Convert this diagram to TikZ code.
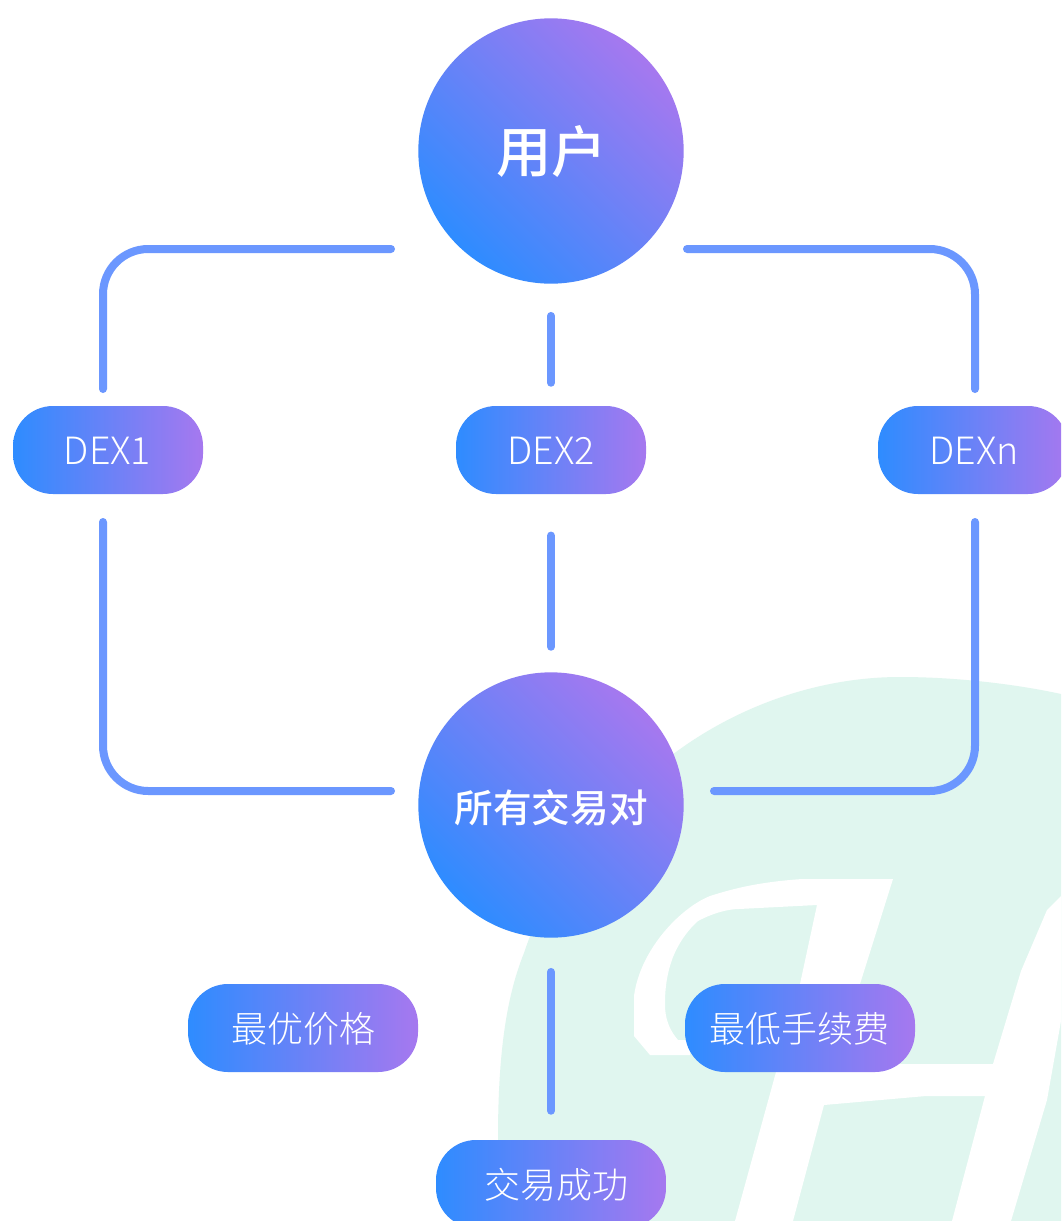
\documentclass[tikz,border=0pt]{standalone}
\usepackage{fontspec}
\setmainfont{Noto Sans CJK SC}
\newfontfamily\cjklight{Noto Sans CJK SC Light}
\newfontfamily\cjkmed{Noto Sans CJK SC Medium}
\definecolor{gblue}{HTML}{2E8CFF}
\definecolor{gpurple}{HTML}{A678EF}
\definecolor{linkc}{HTML}{6B97FF}
\definecolor{mint}{HTML}{E0F6EF}
% optical offset of a label inside its node: dx, dy, text
\newcommand{\nudgetext}[3]{\hspace*{#1}\raisebox{#2}[\height][\depth]{#3}}
\tikzset{
  bigcircle/.style={circle,inner sep=0pt,minimum size=199pt,text=white,
    left color=gblue,right color=gpurple,shading angle=135},
  pill/.style={rectangle,rounded corners=30pt,inner sep=0pt,minimum height=66pt,text=white,
    left color=gblue,right color=gpurple,font=\cjklight\fontsize{27pt}{30pt}\selectfont},
  dexpill/.style={pill,minimum width=142.5pt,font=\cjklight\fontsize{28.2pt}{30pt}\selectfont},
  wordpill/.style={pill,minimum width=172.5pt},
  link/.style={draw=linkc,line width=6pt,line cap=round,rounded corners=34pt},
  mintshape/.style={fill=mint,draw=none},
  glyphcut/.style={fill=white,draw=none}
}
\begin{document}
\begin{tikzpicture}[x=0.75pt,y=-0.75pt]
\useasboundingbox (0,0) rectangle (1061,1221);
\clip (0,0) rectangle (1061,1221);
\fill[white] (0,0) rectangle (1061,1221);
% watermark
\path[mintshape] (498,1221) -- (498,1139)
  .. controls (498,1060) and (505,1000) .. (524,953)
  .. controls (545,890) and (590,810) .. (676,752)
  .. controls (740,705) and (820,677) .. (900,677)
  .. controls (960,677) and (1020,685) .. (1061,694)
  -- (1061,1221) -- cycle;
\path[glyphcut] (893,879) -- (802,879)
  .. controls (760,882) and (735,888) .. (710,896)
  .. controls (680,908) and (640,950) .. (634,996)
  -- (634,1036) -- (650,1055) -- (690,1055) -- (690,1040) -- (678,1040)
  .. controls (665,1025) and (665,1010) .. (665,1003)
  .. controls (665,980) and (670,965) .. (673,957)
  .. controls (680,940) and (690,928) .. (698,921)
  .. controls (715,912) and (730,909) .. (739,909)
  -- (817,905) -- (800,984) -- (776,1072) -- (735,1221) -- (793,1221)
  -- (824,1105) -- (926,1096) -- (985,1096) -- (952,1221) -- (1011,1221)
  -- (1047,1100) -- (1061,1021) -- (1061,896) -- (1047,910) -- (1021,971)
  -- (993,1064) -- (850,1064) -- (860,984) -- cycle;
% nodes
\node[bigcircle,font=\cjkmed\fontsize{41.5pt}{44pt}\selectfont] (user) at (551,151) {\nudgetext{1pt}{-0.5pt}{用户}};
\node[bigcircle,font=\cjkmed\fontsize{29pt}{32pt}\selectfont] (pairs) at (551,805) {\nudgetext{0pt}{-2.25pt}{所有交易对}};
\node[dexpill] (dexa) at (108,450) {\nudgetext{-0.8pt}{-0.75pt}{DEX1}};
\node[dexpill] (dexb) at (551,450) {\nudgetext{0pt}{-0.75pt}{DEX2}};
\node[dexpill] (dexc) at (973,450) {\nudgetext{1.5pt}{-0.75pt}{DEXn}};
\node[wordpill] (best) at (303,1028) {\nudgetext{0pt}{-0.4pt}{最优价格}};
\node[wordpill] (fee) at (800,1028) {\nudgetext{-1.5pt}{-0.4pt}{最低手续费}};
\node[wordpill] (done) at (551,1184) {\nudgetext{7.5pt}{-0.4pt}{交易成功}};
% free ends of the connectors
\coordinate (tl) at (391,249);
\coordinate (tlc) at (103,249);
\coordinate (tle) at (103,389);
\coordinate (tr) at (687,249);
\coordinate (trc) at (975,249);
\coordinate (tre) at (975,389);
\coordinate (bl) at (103,522);
\coordinate (blc) at (103,791);
\coordinate (ble) at (391,791);
\coordinate (br) at (975,522);
\coordinate (brc) at (975,791);
\coordinate (bre) at (714,791);
% connectors
\draw[link] (tl) -- (tlc) -- (tle);
\draw[link] (tr) -- (trc) -- (tre);
\draw[link] (bl) -- (blc) -- (ble);
\draw[link] (br) -- (brc) -- (bre);
\draw[link] ([yshift=-24pt]user.south) -- ([yshift=17.25pt]dexb.north);
\draw[link] ([yshift=-31pt]dexb.south) -- ([yshift=19pt]pairs.north);
\draw[link] ([yshift=-25.5pt]pairs.south) -- ([yshift=21.75pt]done.north);
\end{tikzpicture}
\end{document}
